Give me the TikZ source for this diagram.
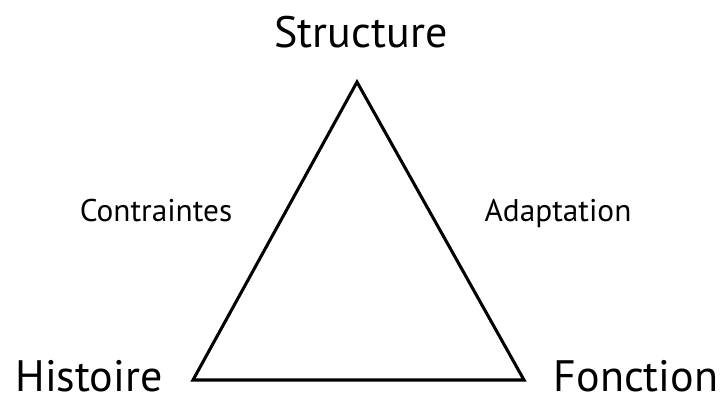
\documentclass[tikz,border=0pt]{standalone}
\usepackage{fontspec}
\setmainfont{PT Sans}
\usetikzlibrary{positioning}

\begin{document}
\begin{tikzpicture}[x=0.75pt, y=-0.75pt,
    pole/.style={anchor=base, inner sep=0pt, font=\fontsize{33}{40}\selectfont},
    relation/.style={anchor=base, inner sep=0pt, font=\fontsize{23.5}{28}\selectfont},
    edge/.style={line width=2.3pt, black, line join=miter}
  ]
    \useasboundingbox (0,0) rectangle (721,394);
    % corners of the triangle
    \coordinate (top) at (357,82);
    \coordinate (left) at (193,380);
    \coordinate (right) at (524,380);
    \draw[edge] (top) -- (left) -- (right) -- cycle;
    % poles
    \node[pole] (structure) at (361,47) {Structure};
    \node[pole] (histoire) at (89,391) {Histoire};
    \node[pole] (fonction) at (636,391) {Fonction};
    % relations
    \node[relation] (contraintes) at (156,221) {Contraintes};
    \node[relation] (adaptation) at (558,221) {Adaptation};
  \end{tikzpicture}
\end{document}
